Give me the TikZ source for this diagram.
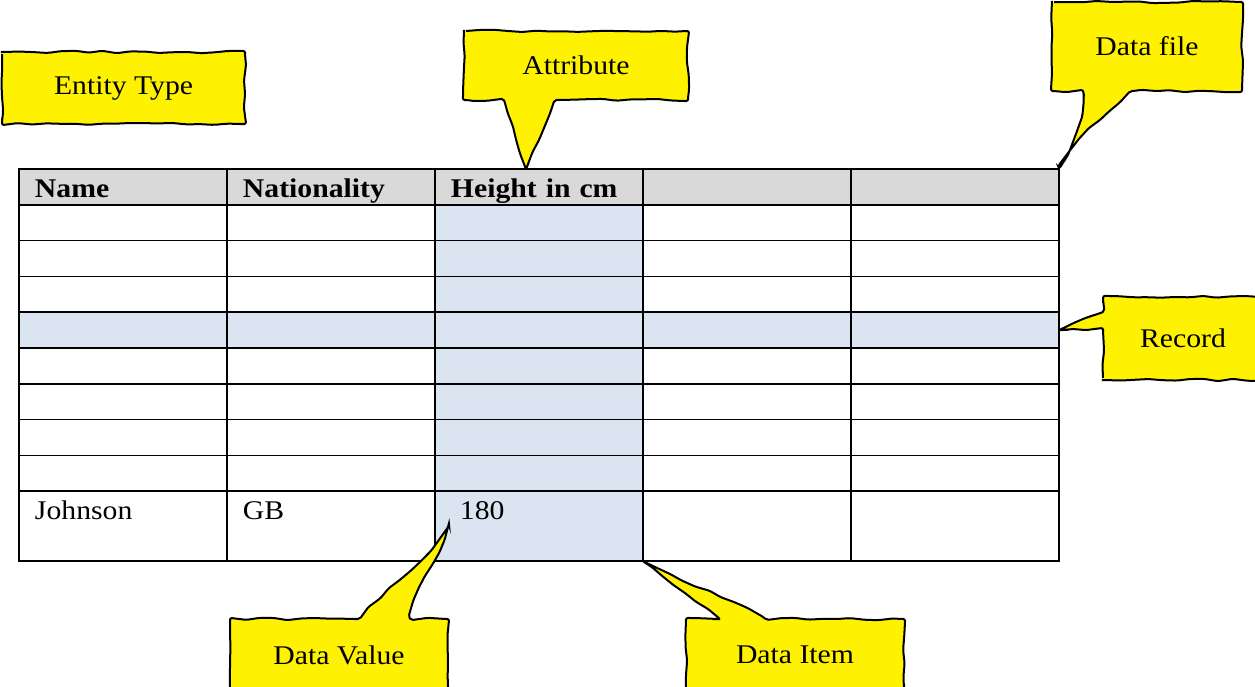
\documentclass[tikz,border=0pt]{standalone}
\usepackage{fontspec}
\setmainfont{Liberation Serif}[FakeStretch=1.1]
\usetikzlibrary{matrix,decorations.pathmorphing,backgrounds}
\definecolor{hdrgray}{HTML}{D9D9D9}
\definecolor{cellblue}{HTML}{DBE5F1}
\tikzset{
  bubble/.style={draw, line width=2pt, fill=yellow, rounded corners=2pt, decorate,
    decoration={random steps, segment length=14pt, amplitude=1.2pt}},
  tag/.style={inner sep=0pt, outer sep=0pt}
}
\begin{document}
\begin{tikzpicture}[x=1pt, y=-1pt, font=\fontsize{27}{32}\selectfont]
  \pgfmathsetseed{7}
  \useasboundingbox (0,0) rectangle (1255,686);
  \node[tag, minimum width=243pt, minimum height=72pt] (ent) at (123.5,88) {Entity Type};
  \node[tag, minimum width=224pt, minimum height=69pt] (attr) at (576,65.5) {Attribute};
  \node[tag, minimum width=190pt, minimum height=89pt] (dfile) at (1147,46.5) {Data file};
  \node[tag, minimum width=160pt, minimum height=83pt] (rec) at (1183,338.5) {Record};
  \node[tag, minimum width=218pt, minimum height=72pt] (dval) at (339,655) {Data Value};
  \node[tag, minimum width=218pt, minimum height=72pt] (ditem) at (795,655) {Data Item};
  \begin{scope}[on background layer]
  \matrix (tab) [matrix of nodes, nodes in empty cells, anchor=north west, inner sep=0pt, outer sep=0pt,
    row sep=-1.6pt, column sep=-1.6pt,
    nodes={draw, line width=1.6pt, fill=white, outer sep=0pt, inner xsep=16pt, inner ysep=4pt,
      text width=176pt, align=left, minimum height=35.8pt, text height=24pt, text depth=2pt},
    column 3/.style={nodes={fill=cellblue}},
    row 1/.style={nodes={fill=hdrgray, font=\fontsize{27}{32}\selectfont\bfseries}},
    row 5/.style={nodes={fill=cellblue}},
    row 10/.style={nodes={minimum height=70pt, text depth=38pt}}] at (18.2,168.2) {
    Name & Nationality & Height in cm & & \\
    & & & & \\
    & & & & \\
    & & & & \\
    & & & & \\
    & & & & \\
    & & & & \\
    & & & & \\
    & & & & \\
    Johnson & GB & \ 180 & & \\
  };
  \draw[bubble] (ent.north west) rectangle (ent.south east);
  \draw[bubble] (attr.north west) -- (attr.north east) -- (attr.south east) -- ([xshift=-20pt]attr.south)
    -- ([xshift=-13pt]tab-1-3.north) -- ([xshift=-72pt]attr.south) -- (attr.south west) -- cycle;
  \draw[bubble] (dfile.north west) -- (dfile.north east) -- (dfile.south east) -- ([xshift=-15pt]dfile.south)
    .. controls (1100,120) and (1072,140) .. (tab-1-5.north east)
    .. controls (1076,138) and (1084,115) .. ([xshift=-64pt]dfile.south) -- (dfile.south west) -- cycle;
  \draw[bubble] (rec.south west) -- ([yshift=51pt]rec.south west) -- (tab-5-5.east)
    -- ([yshift=-15pt]rec.north west) -- (rec.north west) -- (rec.north east) -- (rec.south east) -- cycle;
  \draw[bubble] (dval.south west) -- (dval.north west) -- ([xshift=19pt]dval.north)
    .. controls (390,585) and (430,560) .. ([xshift=14pt,yshift=3pt]tab-10-3.west)
    .. controls (442,560) and (410,585) .. ([xshift=72pt]dval.north) -- (dval.north east) -- (dval.south east) -- cycle;
  \draw[bubble] (ditem.south west) -- (ditem.north west) -- ([xshift=-75pt]ditem.north) -- (tab-10-3.south east)
    .. controls (690,585) and (735,600) .. ([xshift=-30pt]ditem.north) -- (ditem.north east) -- (ditem.south east) -- cycle;
  \end{scope}
\end{tikzpicture}
\end{document}
